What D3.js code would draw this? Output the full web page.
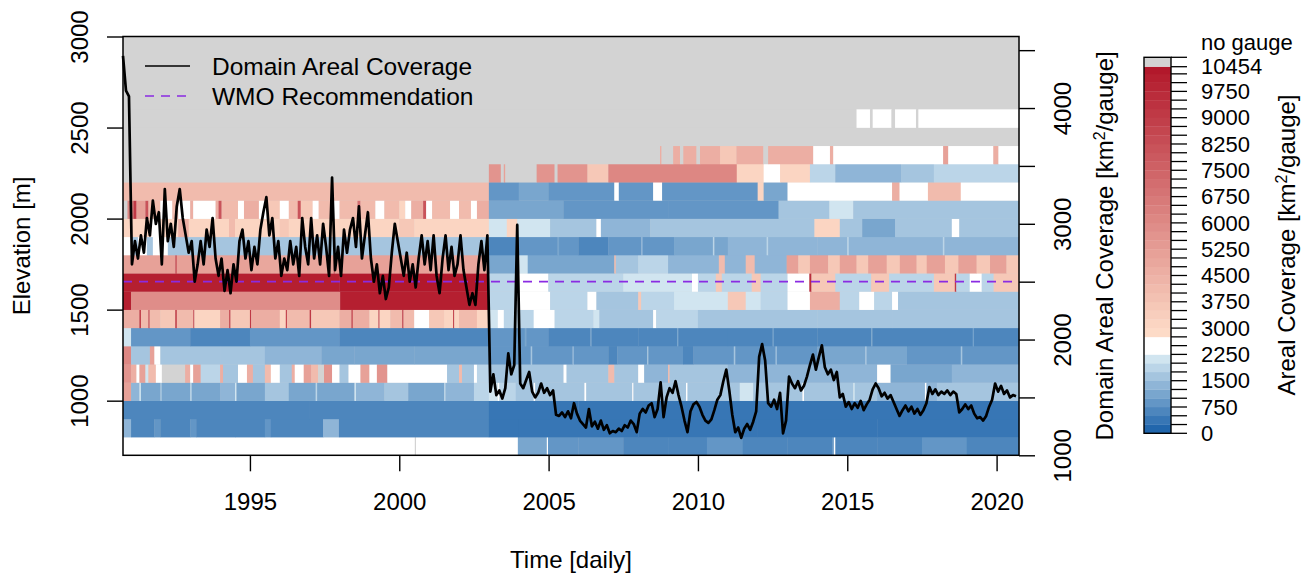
<!DOCTYPE html>
<html>
<head>
<meta charset="utf-8">
<script src="https://cdn.jsdelivr.net/npm/d3@7"></script>
<style>
body { margin: 0; background: #fff; }
svg text { font-family: "Liberation Sans", Arial, sans-serif; fill: #000; }
</style>
</head>
<body>
<svg id="chart" width="1309" height="574"></svg>
<script>
// elevation bands (lower edge, m) drawn as rows of the heat map
var bandLows = [700, 800, 900, 1000, 1100, 1200, 1300, 1400, 1500, 1600, 1700, 1800, 1900, 2000, 2100, 2200, 2300, 2400, 2500];

// each band: [start year, areal coverage km2/gauge, start, value, ...]; null = no gauge
var elev0700 = [1990.75, 2500, 2000.52, null, 2000.56, 2500, 2003.97, 1100, 2004.94, 2400, 2004.98, 900, 2006.0, 800, 2007.5, 700, 2009.0, 600, 2010.3, 800, 2011.5, 650, 2013.0, 700, 2014.5, 900, 2014.55, 2300, 2014.6, 700, 2016.0, 600, 2017.5, 800, 2019.0, 650];
var elev0800 = [1990.75, 1400, 1991.02, 700, 1991.8, 900, 1992.0, 650, 1993.0, 850, 1993.2, 700, 1994.5, 600, 1995.5, 800, 1995.7, 600, 1997.45, 1400, 1997.98, 500, 2003.0, 450, 2004.0, 350, 2008.0, 300, 2012.0, 350, 2016.0, 300];
var elev0900 = [1990.75, 550, 1997.0, 500, 2003.0, 450, 2006.0, 350, 2010.0, 400, 2013.0, 450, 2017.0, 400];
var elev1000 = [1990.75, 5000, 1991.02, 1300, 1991.3, 2100, 1991.35, 1100, 1992.0, 1500, 1992.05, 1000, 1993.0, 1900, 1993.05, 1200, 1994.0, 1400, 1994.5, 2100, 1994.55, 1100, 1995.5, 1600, 1996.3, 1000, 1997.2, 1800, 1997.25, 1200, 1998.5, 2200, 1998.55, 1300, 1999.5, 1600, 2000.3, 1100, 2001.5, 1900, 2001.55, 1300, 2002.5, 1800, 2003.0, 2000, 2003.3, 2300, 2003.35, 1900, 2003.9, 1700, 2004.5, 2400, 2004.55, 1700, 2005.0, 1600, 2006.2, 2400, 2006.26, 1600, 2007.8, 2300, 2007.84, 1700, 2009.6, 2400, 2009.65, 1700, 2011.4, 2200, 2011.85, 1600, 2013.0, 1500, 2013.5, 2300, 2013.55, 1500, 2015.2, 2200, 2015.25, 1500, 2016.0, 1400, 2017.6, 2300, 2017.65, 1400, 2018.0, 1500];
var elev1100 = [1990.75, 5500, 1991.02, 4500, 1991.2, 2500, 1991.3, 5000, 1991.5, 2000, 1991.6, 4000, 1991.85, 2500, 1992.05, null, 1992.83, 4500, 1993.0, 2500, 1993.1, 5000, 1993.35, 1800, 1994.0, 4500, 1994.1, 1500, 1994.6, 2500, 1994.9, 4500, 1995.1, 1700, 1995.5, 4000, 1995.7, 2500, 1996.0, 1500, 1996.4, 4500, 1996.5, 2500, 1996.8, 5000, 1997.05, 4000, 1997.28, null, 1997.48, 5500, 1997.75, 2500, 1998.0, 1500, 1998.3, 2500, 1998.7, 5000, 1999.0, 2500, 1999.25, 5500, 1999.6, 2500, 2001.6, 1700, 2002.0, 4000, 2002.1, 1500, 2002.5, 2500, 2002.6, 1800, 2003.0, 1500, 2003.8, 1700, 2005.5, 2400, 2005.6, 1600, 2007.0, 4000, 2007.2, 1500, 2008.0, 2300, 2008.2, 1400, 2009.0, 4000, 2009.05, 1500, 2011.0, 1300, 2016.0, 2400, 2016.45, 1200, 2018.5, 1300];
var elev1200 = [1990.75, 6000, 1991.02, 1600, 1991.65, 5000, 1991.8, 2300, 1992.0, 1600, 1994.0, 1500, 1995.5, 1400, 1997.4, 1200, 1998.5, 1100, 2000.5, 1000, 2002.0, 1100, 2003.0, 900, 2004.4, 1500, 2004.45, 900, 2005.8, 1400, 2005.85, 900, 2007.0, 600, 2007.3, 900, 2008.3, 1500, 2008.34, 900, 2009.5, 600, 2009.85, 950, 2011.2, 1600, 2011.25, 950, 2012.6, 1500, 2012.64, 950, 2014.0, 1000, 2015.6, 1600, 2015.65, 1000, 2017.0, 900, 2018.8, 1500, 2018.85, 900];
var elev1300 = [1990.75, 2100, 1991.02, 800, 1993.0, 700, 1995.0, 800, 1998.0, 700, 2003.0, 750, 2004.2, 1100, 2004.25, 750, 2005.0, 600, 2006.4, 1000, 2006.44, 600, 2008.0, 700, 2009.3, 1100, 2009.34, 700, 2011.0, 600, 2012.5, 1000, 2012.54, 600, 2014.0, 700, 2015.8, 1100, 2015.84, 700, 2017.0, 650, 2019.2, 1000, 2019.24, 650];
var elev1400 = [1990.75, 4500, 1991.3, 9000, 1991.35, 4000, 1991.6, 8500, 1991.64, 4000, 1992.0, 3500, 1992.5, 9000, 1992.55, 4000, 1993.1, 8000, 1993.14, 3000, 1994.0, 4500, 1994.3, 8000, 1994.35, 3500, 1995.0, 9000, 1995.04, 4500, 1996.0, 3000, 1996.2, 8500, 1996.24, 4000, 1997.0, 9000, 1997.05, 3500, 1998.0, 4500, 1998.4, 9000, 1998.44, 4500, 1999.0, 3000, 1999.3, 8000, 1999.34, 3000, 1999.7, 4000, 2000.1, 9000, 2000.14, 4000, 2000.5, 2500, 2001.0, 3500, 2001.5, 3000, 2001.8, 8500, 2001.84, 3000, 2002.0, 4000, 2002.6, 3200, 2003.0, 2000, 2003.3, 2500, 2003.5, 1900, 2004.5, 2300, 2005.2, 1800, 2006.5, 2200, 2006.7, 1700, 2008.5, 2400, 2008.6, 1800, 2010.0, 1500, 2014.0, 1600, 2016.5, 1500];
var elev1500 = [1990.75, 10000, 1991.02, 5800, 1998.02, 10000, 2003.0, 1800, 2003.95, 2500, 2005.05, 1800, 2006.3, 2500, 2006.6, 1700, 2008.0, 3500, 2008.1, 1800, 2009.2, 2000, 2011.0, 3500, 2011.6, 2200, 2012.1, 1900, 2013.0, 2500, 2013.75, 4500, 2014.75, 1800, 2015.4, 2500, 2015.9, 1800, 2016.5, 2500, 2016.7, 1700];
var elev1600 = [1990.75, 10000, 1998.0, 10400, 2003.0, 1900, 2003.93, 2500, 2004.99, 1900, 2007.5, 2100, 2009.8, 2500, 2010.0, 1900, 2010.6, 3500, 2010.8, 1900, 2011.8, 3500, 2012.1, 1900, 2013.0, 2500, 2013.73, 9500, 2013.8, 3500, 2014.6, 1900, 2015.8, 3500, 2016.4, 1900, 2017.9, 3500, 2018.6, 9000, 2018.65, 1900, 2019.1, 2500, 2019.5, 1900, 2019.9, 3500];
var elev1700 = [1990.75, 5000, 1992.5, 8000, 1992.55, 5000, 1995.0, 4800, 1997.8, 7000, 1997.85, 5000, 2001.0, 4800, 2003.0, 1200, 2003.93, 2200, 2004.3, 1200, 2007.2, 4000, 2007.25, 1500, 2008.0, 1800, 2009.0, 1300, 2010.7, 4000, 2010.9, 1300, 2011.6, 4000, 2011.9, 1400, 2012.97, 5000, 2013.36, 3500, 2013.75, 5000, 2014.36, 3500, 2014.75, 5000, 2015.31, 3500, 2015.7, 5000, 2016.32, 3500, 2016.76, 5000, 2017.32, 3500, 2017.66, 5000, 2018.27, 3500, 2018.72, 5000, 2019.33, 3500, 2019.78, 5000, 2020.33, 3500];
var elev1800 = [1990.75, 2500, 1991.02, 1600, 1991.25, 2500, 1991.55, 1600, 1991.75, 2500, 1992.25, 1600, 2003.0, 700, 2004.0, 800, 2005.3, 1200, 2005.35, 800, 2006.0, 700, 2007.0, 900, 2008.1, 1400, 2008.15, 900, 2009.2, 1200, 2010.5, 1800, 2010.55, 1200, 2011.0, 1350, 2012.3, 1900, 2012.35, 1350, 2014.0, 1300, 2015.0, 1800, 2015.05, 1300, 2017.0, 1350, 2018.2, 1900, 2018.25, 1350];
var elev1900 = [1990.75, 3200, 1991.7, 2500, 1992.0, 3200, 1992.6, 4500, 1992.95, 3200, 1994.3, 4000, 1994.5, 3200, 1996.0, 3500, 1996.3, 3000, 1998.0, 3200, 2000.0, 3500, 2000.5, 3000, 2003.0, 2000, 2003.6, 3200, 2003.95, 2100, 2005.05, 1500, 2006.6, 2500, 2006.75, 1300, 2008.4, 1700, 2010.8, 1600, 2013.9, 3200, 2014.75, 1600, 2015.5, 1200, 2016.6, 1500, 2018.5, 2500, 2018.75, 1500];
var elev2000 = [1990.75, null, 1990.9, 6000, 1991.1, 9000, 1991.2, 5000, 1991.5, 8000, 1991.6, 4000, 1992.0, 2500, 1992.4, 4000, 1992.6, 2500, 1993.0, 4500, 1993.1, 2500, 1993.85, 4500, 1993.95, 8000, 1994.05, 4000, 1994.6, 2500, 1994.8, 4500, 1995.3, 2500, 1995.6, 3500, 1996.0, 2500, 1996.3, 4000, 1996.6, 8000, 1996.7, 3500, 1997.1, 2500, 1997.3, 4000, 1997.7, 6000, 1997.8, 2500, 1998.0, 4000, 1998.6, 7000, 1998.7, 4000, 1999.2, 2500, 1999.5, 4000, 2000.0, 3000, 2000.2, 2500, 2000.4, 4500, 2000.8, 8000, 2000.9, 2500, 2001.1, 4000, 2001.7, 2500, 2002.0, 4000, 2002.4, 2500, 2002.6, 4500, 2003.0, 1000, 2005.5, 800, 2009.0, 900, 2012.7, 1700, 2014.4, 2100, 2015.2, 1600, 2017.0, 1700];
var elev2100 = [1990.75, 4000, 2003.0, 900, 2004.0, 1000, 2005.0, 800, 2007.2, 2500, 2007.35, 900, 2008.5, 2500, 2008.8, 900, 2012.0, 3200, 2012.2, 1200, 2013.0, 2500, 2016.5, 4500, 2016.75, 2500, 2017.7, 4000, 2018.8, 2500];
var elev2200 = [1990.75, null, 2003.0, 5500, 2003.4, null, 2003.5, 5000, 2003.55, null, 2004.6, 5500, 2005.2, null, 2005.3, 5500, 2006.3, 3500, 2007.0, 6000, 2011.3, 3200, 2012.2, 2300, 2012.75, 3200, 2013.75, 1800, 2014.6, 1300, 2016.8, 1500, 2017.9, 1900];
var elev2300 = [1990.75, null, 2008.73, 4500, 2008.78, null, 2009.17, 4500, 2009.4, null, 2009.51, 4500, 2009.95, null, 2010.07, 4500, 2010.74, 3500, 2011.29, 4500, 2012.19, null, 2012.35, 4500, 2013.86, 2500, 2014.42, 4500, 2014.53, 2500, 2018.21, 5000, 2018.38, 2500, 2019.89, 4500, 2020.06, 2500];
var elev2400 = [1990.75, null];
var elev2500 = [1990.75, null, 2015.31, 2500, 2015.76, null, 2015.85, 2500, 2016.48, null, 2016.6, 2500, 2017.3, null, 2017.38, 2500];

// domain areal coverage, one reading every 0.1 year from Oct 1990
var coverageStart = 1990.75;
var coverageStep = 0.1;
var coverageValues = [
  4450, 4150, 4100, 2650, 2850, 2700, 2900, 2750, 3050, 2900,
  3200, 3000, 3100, 2650, 3300, 2850, 3000, 2800, 3150, 3300,
  3050, 2900, 2750, 2850, 2500, 2650, 2850, 2650, 2950, 2800,
  3050, 2700, 2550, 2700, 2420, 2600, 2400, 2650, 2500, 2850,
  2950, 2700, 2850, 2600, 2800, 2650, 2950, 3100, 3230, 2900,
  3050, 2700, 2850, 2550, 2700, 2600, 2850, 2650, 2800, 2550,
  3050, 2800, 2650, 3050, 2700, 2900, 2650, 3000, 2800, 2550,
  3400, 2600, 2800, 2550, 2950, 2750, 2950, 3050, 2800, 3150,
  2700, 2900, 3100, 2700, 2500, 2650, 2400, 2550, 2350, 2450,
  2750, 3000, 2850, 2700, 2550, 2750, 2500, 2650, 2450, 2700,
  2900, 2650, 2850, 2600, 2900, 2550, 2400, 2700, 2900, 2600,
  2800, 2550, 2650, 2900, 2600, 2450, 2300, 2400, 2300, 2650,
  2850, 2600, 2900, 1550, 1700, 1520, 1560, 1490, 1580, 1880,
  1700, 1780, 2990, 1620, 1580, 1650, 1720, 1550, 1500, 1540,
  1620, 1540, 1580, 1520, 1560, 1350, 1340, 1370, 1330, 1380,
  1320, 1450, 1360, 1300, 1270, 1240, 1400, 1250, 1290, 1230,
  1300, 1220, 1260, 1190, 1210, 1200, 1230, 1210, 1260, 1240,
  1300, 1270, 1200, 1360, 1400, 1370, 1430, 1450, 1330, 1400,
  1630, 1330, 1500, 1580, 1540, 1640, 1520, 1420, 1300, 1200,
  1380, 1440, 1460, 1420, 1350, 1300, 1280, 1310, 1390, 1480,
  1520, 1640, 1740, 1560, 1350, 1200, 1240, 1150, 1230, 1270,
  1220, 1290, 1380, 1850, 1960, 1820, 1450, 1420, 1480, 1400,
  1540, 1190, 1300, 1680, 1620, 1580, 1640, 1560, 1600, 1680,
  1780, 1870, 1740, 1850, 1950, 1760, 1700, 1740, 1650, 1720,
  1500, 1530, 1420, 1460, 1400, 1450, 1410, 1470, 1390, 1440,
  1480, 1570, 1620, 1580, 1510, 1540, 1490, 1520, 1460, 1400,
  1340, 1390, 1430, 1380, 1420, 1360, 1400, 1350, 1390, 1450,
  1590, 1530, 1570, 1520, 1550, 1530, 1560, 1520, 1550, 1530,
  1370, 1400, 1440, 1400, 1430, 1360, 1320, 1330, 1300, 1340,
  1420, 1480, 1620, 1550, 1600, 1530, 1560, 1500, 1520, 1510
];
var wmoValue = 2500;

var yearTicks = [1995, 2000, 2005, 2010, 2015, 2020];
var elevTicks = [1000, 1500, 2000, 2500, 3000];
var coverTicks = [1000, 1500, 2000, 2500, 3000, 3500, 4000, 4500];
var coverLabels = [1000, 2000, 3000, 4000];
var legendTicks = [0, 750, 1500, 2250, 3000, 3750, 4500, 5250, 6000, 6750, 7500, 8250, 9000, 9750, 10454];
var coverMax = 10454;

var bands = [elev0700, elev0800, elev0900, elev1000, elev1100, elev1200, elev1300, elev1400, elev1500,
  elev1600, elev1700, elev1800, elev1900, elev2000, elev2100, elev2200, elev2300, elev2400, elev2500];

var noGauge = "#d3d3d3";
var svg = d3.select("#chart");

var plotL = 123, plotR = 1019, plotT = 36.5, plotB = 455.3;
var x = d3.scaleLinear().domain([1990.75, 2020.75]).range([plotL, plotR]);
var y = d3.scaleLinear().domain([700, 3000]).range([plotB, plotT]);
var y2 = d3.scaleLinear().domain([1000, 4618]).range([plotB, plotT]);

// 250 wide colour bins: blue below 2250, white to 2750, reds above
var blues = d3.quantize(d3.interpolateRgb("#2166ac", "#d1e5f0"), 9);
var reds = d3.quantize(d3.interpolateRgb("#fddbc7", "#b2182b"), 31);
var color = d3.scaleThreshold()
  .domain(d3.range(250, coverMax, 250))
  .range(blues.concat(["#ffffff", "#ffffff"], reds));

function fillOf(v) { return v === null ? noGauge : color(v); }

// plot background = no gauge
svg.append("rect")
  .attr("x", plotL).attr("y", plotT)
  .attr("width", plotR - plotL).attr("height", plotB - plotT)
  .attr("fill", noGauge);

var heat = svg.append("g");
bandLows.forEach(function(low, b) {
  var arr = bands[b];
  var segs = [];
  for (var k = 0; k < arr.length; k += 2) {
    segs.push({t0: arr[k], v: arr[k + 1], t1: k + 2 < arr.length ? arr[k + 2] : 2020.75});
  }
  heat.selectAll(null)
    .data(segs)
    .enter().append("rect")
      .attr("x", function(d) { return x(d.t0); })
      .attr("width", function(d) { return Math.max(0.8, x(d.t1) - x(d.t0) + 0.3); })
      .attr("y", y(low + 100))
      .attr("height", y(low) - y(low + 100) + 0.3)
      .attr("fill", function(d) { return fillOf(d.v); });
});

//WMO line
svg.append("line")
  .attr("x1", plotL).attr("x2", plotR)
  .attr("y1", y2(wmoValue)).attr("y2", y2(wmoValue))
  .attr("stroke", "#8a2be2")
  .attr("stroke-width", 1.6)
  .attr("stroke-dasharray", "9,7");

//domain areal coverage
var coverage = coverageValues.map(function(v, i) {
  return {t: coverageStart + coverageStep * i, v: v};
});
svg.append("path")
  .datum(coverage)
  .attr("fill", "none")
  .attr("stroke", "#000")
  .attr("stroke-width", 2.7)
  .attr("stroke-linejoin", "round")
  .attr("d", d3.line()
    .x(function(d) { return x(d.t); })
    .y(function(d) { return y2(d.v); }));

// box
svg.append("rect")
  .attr("x", plotL).attr("y", plotT)
  .attr("width", plotR - plotL).attr("height", plotB - plotT)
  .attr("fill", "none")
  .attr("stroke", "#000")
  .attr("stroke-width", 1.5);

//x axis
var gx = svg.append("g")
  .attr("transform", "translate(0," + plotB + ")")
  .call(d3.axisBottom(x).tickValues(yearTicks).tickFormat(d3.format("d")).tickSize(16).tickPadding(22));
gx.select(".domain").remove();
gx.selectAll("text").style("font-size", "24px");
gx.selectAll("line").attr("stroke-width", 1.4);

//left axis
var gy = svg.append("g")
  .attr("transform", "translate(" + plotL + ",0)")
  .call(d3.axisLeft(y).tickValues(elevTicks).tickFormat(d3.format("d")).tickSize(16));
gy.select(".domain").remove();
gy.selectAll("line").attr("stroke-width", 1.4);
gy.selectAll("text")
  .style("font-size", "24px")
  .attr("text-anchor", "middle")
  .attr("transform", "rotate(-90)")
  .attr("x", 0).attr("y", -43).attr("dy", "0.35em");

//right axis
var gy2 = svg.append("g")
  .attr("transform", "translate(" + plotR + ",0)")
  .call(d3.axisRight(y2).tickValues(coverTicks).tickSize(16)
    .tickFormat(function(d) { return coverLabels.indexOf(d) >= 0 ? d : ""; }));
gy2.select(".domain").remove();
gy2.selectAll("line").attr("stroke-width", 1.4);
gy2.selectAll("text")
  .style("font-size", "24px")
  .attr("text-anchor", "middle")
  .attr("transform", "rotate(-90)")
  .attr("x", 0).attr("y", 44).attr("dy", "0.35em");

// axis titles
svg.append("text")
  .attr("x", (plotL + plotR) / 2).attr("y", 568)
  .attr("text-anchor", "middle")
  .style("font-size", "24px")
  .text("Time [daily]");
svg.append("text")
  .attr("transform", "translate(22," + (plotT + plotB) / 2 + ") rotate(-90)")
  .attr("text-anchor", "middle").attr("dy", "0.35em")
  .style("font-size", "24px")
  .text("Elevation [m]");

function kmLabel(g, txt) {
  g.append("tspan").text(txt + " [km");
  g.append("tspan").attr("baseline-shift", "super").style("font-size", "16px").text("2");
  g.append("tspan").text("/gauge]");
}
kmLabel(svg.append("text")
  .attr("transform", "translate(1105," + (plotT + plotB) / 2 + ") rotate(-90)")
  .attr("text-anchor", "middle").attr("dy", "0.35em")
  .style("font-size", "24px"), "Domain Areal Coverage");

// legend
var legend = svg.append("g");
legend.append("line")
  .attr("x1", 145).attr("x2", 190).attr("y1", 66).attr("y2", 66)
  .attr("stroke", "#000").attr("stroke-width", 1.7);
legend.append("text")
  .attr("x", 212).attr("y", 66).attr("dy", "0.35em")
  .style("font-size", "24.5px")
  .text("Domain Areal Coverage");
legend.append("line")
  .attr("x1", 145).attr("x2", 190).attr("y1", 96).attr("y2", 96)
  .attr("stroke", "#8a2be2").attr("stroke-width", 1.6)
  .attr("stroke-dasharray", "9,7");
legend.append("text")
  .attr("x", 212).attr("y", 96).attr("dy", "0.35em")
  .style("font-size", "24.5px")
  .text("WMO Recommendation");

// colour bar
var cbX = 1144, cbW = 27;
var cy = d3.scaleLinear().domain([0, coverMax]).range([433.3, 66.7]);
var bins = d3.range(0, coverMax, 250).map(function(s) {
  return {lo: s, hi: Math.min(s + 250, coverMax)};
});
var cb = svg.append("g");
cb.selectAll("rect.bin")
  .data(bins)
  .enter().append("rect")
    .attr("class", "bin")
    .attr("x", cbX).attr("width", cbW)
    .attr("y", function(d) { return cy(d.hi); })
    .attr("height", function(d) { return cy(d.lo) - cy(d.hi) + 0.3; })
    .attr("fill", function(d) { return color(d.lo); });
cb.append("rect")
  .attr("x", cbX).attr("width", cbW)
  .attr("y", 57.3).attr("height", cy(coverMax) - 57.3)
  .attr("fill", noGauge);
cb.append("rect")
  .attr("x", cbX).attr("width", cbW)
  .attr("y", 57.3).attr("height", 433.3 - 57.3)
  .attr("fill", "none").attr("stroke", "#000").attr("stroke-width", 1.4);
var cbTicks = d3.range(0, coverMax, 250).concat([coverMax]);
cb.selectAll("line.tk")
  .data(cbTicks)
  .enter().append("line")
    .attr("class", "tk")
    .attr("x1", cbX + cbW).attr("x2", cbX + cbW + 16)
    .attr("y1", function(d) { return cy(d); })
    .attr("y2", function(d) { return cy(d); })
    .attr("stroke", "#000").attr("stroke-width", 1.3);
cb.append("line")
  .attr("x1", cbX + cbW).attr("x2", cbX + cbW + 16)
  .attr("y1", 57.3).attr("y2", 57.3)
  .attr("stroke", "#000").attr("stroke-width", 1.3);
cb.selectAll("text.lb")
  .data(legendTicks)
  .enter().append("text")
    .attr("class", "lb")
    .attr("x", 1201)
    .attr("y", function(d) { return cy(d); })
    .attr("dy", "0.35em")
    .style("font-size", "22px")
    .text(function(d) { return d; });
cb.append("text")
  .attr("x", 1201).attr("y", 42).attr("dy", "0.35em")
  .style("font-size", "22px")
  .text("no gauge");
kmLabel(svg.append("text")
  .attr("transform", "translate(1287,245) rotate(-90)")
  .attr("text-anchor", "middle").attr("dy", "0.35em")
  .style("font-size", "24px"), "Areal Coverage");
</script>
</body>
</html>
